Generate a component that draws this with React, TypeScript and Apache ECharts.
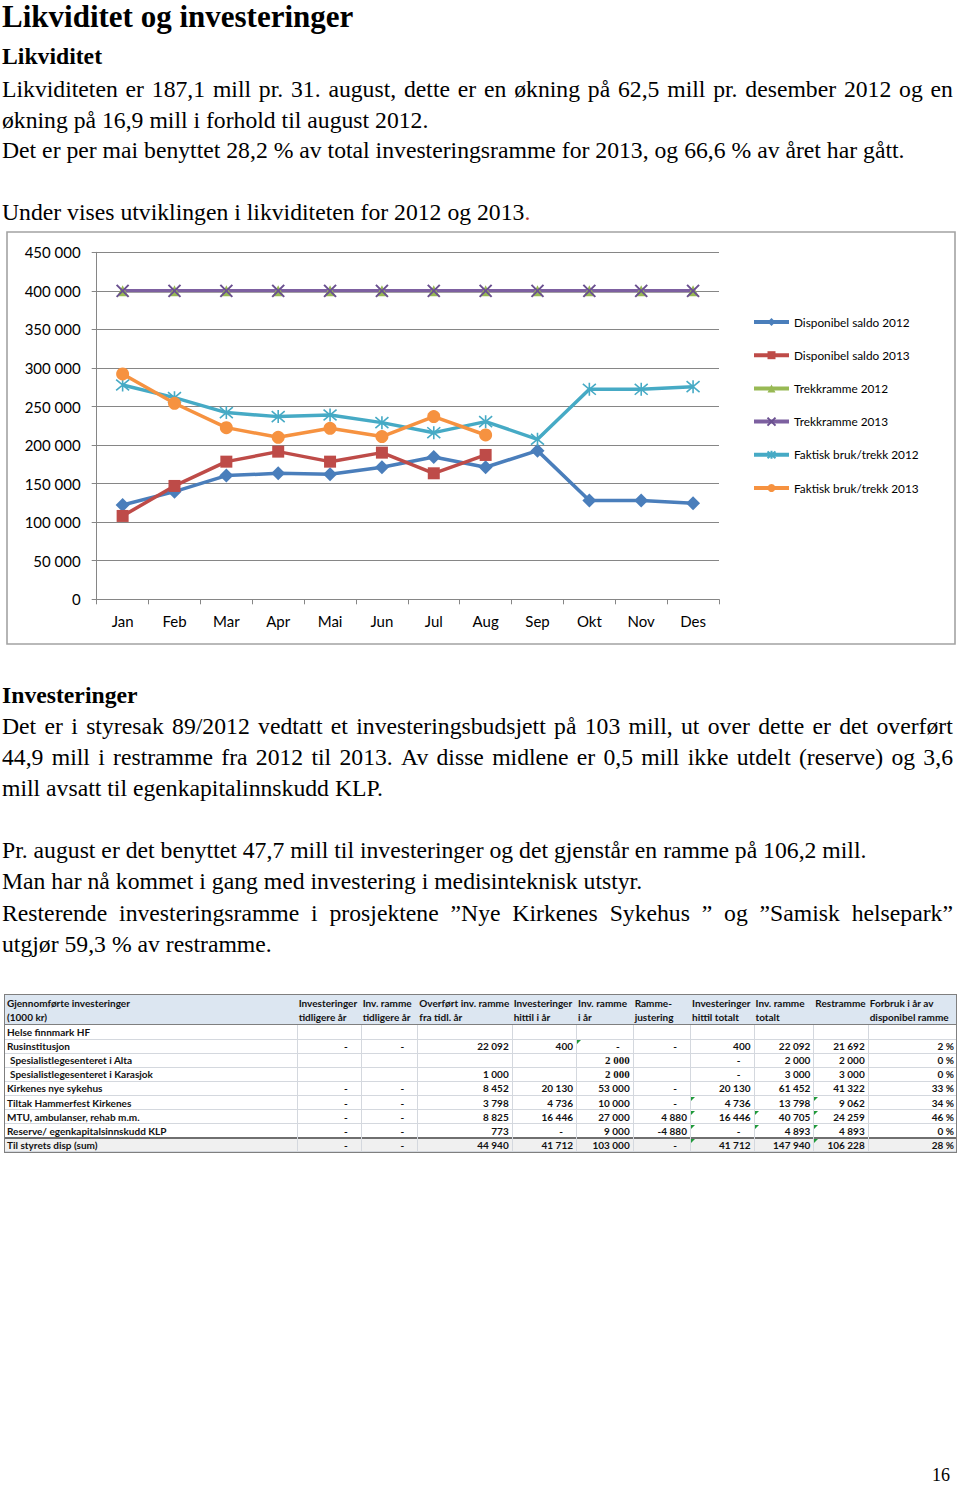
import React, { useEffect, useRef } from "react";
import * as echarts from "echarts";

// ---------- chart data ----------
const months = ["Jan", "Feb", "Mar", "Apr", "Mai", "Jun", "Jul", "Aug", "Sep", "Okt", "Nov", "Des"];
const seriesNames = [
  "Disponibel saldo 2012",
  "Disponibel saldo 2013",
  "Trekkramme 2012",
  "Trekkramme 2013",
  "Faktisk bruk/trekk 2012",
  "Faktisk bruk/trekk 2013",
];
const dispSaldo2012 = [122300, 139600, 160400, 163400, 162100, 171200, 184600, 171200, 192800, 128000, 128000, 124500];
const dispSaldo2013 = [108100, 147000, 178500, 191500, 178500, 190200, 163400, 187200];
const trekkramme2012 = [400000, 400000, 400000, 400000, 400000, 400000, 400000, 400000, 400000, 400000, 400000, 400000];
const trekkramme2013 = [400000, 400000, 400000, 400000, 400000, 400000, 400000, 400000, 400000, 400000, 400000, 400000];
const faktisk2012 = [278000, 261500, 242100, 236900, 239000, 229100, 216100, 230400, 207500, 272300, 272300, 275800];
const faktisk2013 = [292200, 254200, 222600, 210100, 221800, 211000, 236900, 213100];

// ---------- table data ----------
const tableHeaders = [
  ["Gjennomførte investeringer", "(1000 kr)"],
  ["Investeringer", "tidligere år"],
  ["Inv. ramme", "tidligere år"],
  ["Overført inv. ramme", "fra tidl. år"],
  ["Investeringer", "hittil i år"],
  ["Inv. ramme", "i år"],
  ["Ramme-", "justering"],
  ["Investeringer", "hittil totalt"],
  ["Inv. ramme", "totalt"],
  ["Restramme", ""],
  ["Forbruk i år av", "disponibel ramme"],
];
const tableRowLabels = [
  "Helse finnmark HF",
  "Rusinstitusjon",
  " Spesialistlegesenteret i Alta",
  " Spesialistlegesenteret i Karasjok",
  "Kirkenes nye sykehus",
  "Tiltak Hammerfest Kirkenes",
  "MTU, ambulanser, rehab m.m.",
  "Reserve/ egenkapitalsinnskudd KLP",
  "Til styrets disp (sum)",
];
const tableValues = [
  ["", "", "", "", "", "", "", "", "", ""],
  ["-", "-", "22 092", "400", "-", "-", "400", "22 092", "21 692", "2 %"],
  ["", "", "", "", "2 000", "", "-", "2 000", "2 000", "0 %"],
  ["", "", "1 000", "", "2 000", "", "-", "3 000", "3 000", "0 %"],
  ["-", "-", "8 452", "20 130", "53 000", "-", "20 130", "61 452", "41 322", "33 %"],
  ["-", "-", "3 798", "4 736", "10 000", "-", "4 736", "13 798", "9 062", "34 %"],
  ["-", "-", "8 825", "16 446", "27 000", "4 880", "16 446", "40 705", "24 259", "46 %"],
  ["-", "-", "773", "-", "9 000", "-4 880", "-", "4 893", "4 893", "0 %"],
  ["-", "-", "44 940", "41 712", "103 000", "-", "41 712", "147 940", "106 228", "28 %"],
];
const serifCells = ["2,5", "3,5"];
const flaggedCells = [[1, 5], [5, 7], [5, 9], [6, 7], [6, 8], [6, 9], [7, 7], [7, 8], [7, 9], [8, 7], [8, 9]];

// ---------- layout constants ----------
const colEdges = [5, 296.7, 360.7, 417.3, 511.7, 576, 632.7, 690, 753.5, 813.3, 867.7, 956];
const tableTop = 995;
const headerH = 30;
const rowH = 14.1;

const SERIF = '"Liberation Serif", "Times New Roman", serif';
const SANS = 'Lato, "Noto Sans", sans-serif';

function TextLine(props: {
  baseline: number;
  size?: number;
  bold?: boolean;
  justify?: boolean;
  lh?: number;
  children?: any;
  text?: string;
}) {
  const size = props.size ?? 23.7;
  const L = props.lh ?? 40;
  const top = props.baseline - L / 2 - 0.3375 * size;
  const base: any = {
    position: "absolute",
    left: 2,
    top,
    height: L,
    lineHeight: L + "px",
    fontSize: size,
    fontWeight: props.bold ? 700 : 400,
    whiteSpace: "pre",
  };
  if (props.justify && props.text) {
    const words = props.text.split(" ");
    return (
      <div style={{ ...base, width: 951, display: "flex", justifyContent: "space-between" }}>
        {words.map((w, i) => (
          <span key={i}>{w}</span>
        ))}
      </div>
    );
  }
  return <div style={base}>{props.text ?? props.children}</div>;
}

function Table() {
  const cells: any[] = [];
  const width = colEdges[colEdges.length - 1] - colEdges[0];
  const totalH = headerH + rowH * tableRowLabels.length;
  const fs = 10;
  cells.push(
    <div key="hbg" style={{ position: "absolute", left: 0, top: 0, width, height: headerH, background: "#dce6f1" }} />
  );
  cells.push(
    <div
      key="lbg"
      style={{ position: "absolute", left: 0, top: headerH + rowH * 8, width, height: rowH, background: "#f0f0f0" }}
    />
  );
  tableHeaders.forEach((h, c) => {
    const x = colEdges[c] - colEdges[0];
    h.forEach((t, li) => {
      cells.push(
        <div
          key={"h" + c + "-" + li}
          style={{
            position: "absolute",
            left: x + 2,
            top: 1 + li * 14,
            height: 14,
            lineHeight: "14px",
            fontSize: fs,
            fontWeight: 700,
            whiteSpace: "pre",
          }}
        >
          {t}
        </div>
      );
    });
  });
  for (let r = 0; r <= tableRowLabels.length; r++) {
    const y = headerH + r * rowH;
    const dark = r === 0 || r === 8;
    cells.push(
      <div
        key={"hl" + r}
        style={{
          position: "absolute",
          left: 0,
          top: y - (dark ? 1 : 0.5),
          width,
          height: 0,
          borderTop: dark ? (r === 8 ? "2px solid #6f6f6f" : "1px solid #7f7f7f") : "1px solid #d4d8de",
        }}
      />
    );
  }
  for (let c = 1; c < colEdges.length - 1; c++) {
    cells.push(
      <div
        key={"vl" + c}
        style={{
          position: "absolute",
          left: colEdges[c] - colEdges[0],
          top: headerH,
          width: 0,
          height: totalH - headerH,
          borderLeft: "1px solid #d4d8de",
        }}
      />
    );
  }
  tableRowLabels.forEach((lab, r) => {
    const y = headerH + r * rowH;
    const indent = lab.startsWith(" ") ? 3 : 0;
    cells.push(
      <div
        key={"l" + r}
        style={{
          position: "absolute",
          left: 2 + indent,
          top: y,
          height: rowH,
          lineHeight: rowH + "px",
          fontSize: fs,
          fontWeight: 700,
          whiteSpace: "pre",
        }}
      >
        {lab.trim()}
      </div>
    );
    tableValues[r].forEach((v, i) => {
      if (!v) return;
      const c = i + 1;
      const x0 = colEdges[c] - colEdges[0];
      const x1 = colEdges[c + 1] - colEdges[0];
      const isDash = v === "-";
      const serif = serifCells.indexOf(r + "," + c) >= 0;
      cells.push(
        <div
          key={"v" + r + "-" + c}
          style={{
            position: "absolute",
            left: x0,
            top: y,
            width: x1 - x0,
            height: rowH,
            lineHeight: rowH + "px",
            fontSize: serif ? 11 : fs,
            fontFamily: serif ? SERIF : SANS,
            fontWeight: 700,
            textAlign: "right",
            boxSizing: "border-box",
            paddingRight: isDash ? 13 : c === 10 ? 2 : 3,
            whiteSpace: "pre",
          }}
        >
          {v}
        </div>
      );
    });
  });
  flaggedCells.forEach(([r, c], k) => {
    cells.push(
      <div
        key={"f" + k}
        style={{
          position: "absolute",
          left: colEdges[c] - colEdges[0] + 1,
          top: headerH + r * rowH + 1,
          width: 0,
          height: 0,
          borderTop: "4px solid #1f9a3a",
          borderRight: "4px solid transparent",
        }}
      />
    );
  });
  return (
    <div
      style={{
        position: "absolute",
        left: colEdges[0],
        top: tableTop,
        width,
        height: totalH,
        fontFamily: SANS,
        color: "#111",
        outline: "1.5px solid #7f7f7f",
      }}
    >
      {cells}
    </div>
  );
}

export default function App() {
  const ref = useRef<HTMLDivElement>(null);

  useEffect(() => {
    if (!ref.current) return;
    const chart = echarts.init(ref.current, null, { renderer: "svg" });
    const axisColor = "#868686";
    const fmt = (v: number) => {
      if (v === 0) return "0";
      const th = Math.floor(v / 1000);
      const rest = String(v % 1000).padStart(3, "0");
      return th + " " + rest;
    };
    const xPath = "path://M0,0L10,10M10,0L0,10";
    const starPath = "path://M0,0L10,10M10,0L0,10M5,-1L5,11";
    chart.setOption({
      animation: false,
      textStyle: { fontFamily: SANS },
      graphic: [
        {
          type: "rect",
          silent: true,
          shape: { x: 1, y: 1, width: 948, height: 412 },
          style: { fill: "none", stroke: "#a3a3a3", lineWidth: 1.6 },
        },
      ],
      grid: { left: 90.7, top: 21.3, width: 622.3, height: 347 },
      legend: {
        orient: "vertical",
        left: 741,
        top: 79,
        itemWidth: 35,
        itemHeight: 10,
        itemGap: 19.2,
        data: seriesNames,
        lineStyle: { width: 4 },
        textStyle: { fontFamily: SANS, fontSize: 11.8, color: "#000", lineHeight: 14 },
      },
      xAxis: {
        type: "category",
        data: months,
        boundaryGap: true,
        axisLine: { show: true, lineStyle: { color: axisColor, width: 1 } },
        axisTick: { show: true, length: 5, lineStyle: { color: axisColor } },
        axisLabel: { fontSize: 15, color: "#000", margin: 14, fontFamily: SANS },
        splitLine: { show: false },
      },
      yAxis: {
        type: "value",
        min: 0,
        max: 450000,
        interval: 50000,
        axisLine: { show: true, lineStyle: { color: axisColor, width: 1 } },
        axisTick: { show: true, length: 5, lineStyle: { color: axisColor } },
        axisLabel: { fontSize: 15, color: "#000", margin: 16, fontFamily: SANS, formatter: fmt },
        splitLine: { show: true, lineStyle: { color: axisColor, width: 1 } },
      },
      series: [
        {
          name: seriesNames[0],
          type: "line",
          data: dispSaldo2012,
          symbol: "diamond",
          symbolSize: 14,
          lineStyle: { width: 3.5, color: "#4A7EBB" },
          itemStyle: { color: "#4A7EBB" },
        },
        {
          name: seriesNames[1],
          type: "line",
          data: dispSaldo2013,
          symbol: "rect",
          symbolSize: 12,
          lineStyle: { width: 3.5, color: "#BE4B48" },
          itemStyle: { color: "#BE4B48" },
        },
        {
          name: seriesNames[2],
          type: "line",
          data: trekkramme2012,
          symbol: "triangle",
          symbolSize: 11,
          lineStyle: { width: 3.5, color: "#98B954" },
          itemStyle: { color: "#98B954" },
        },
        {
          name: seriesNames[3],
          type: "line",
          data: trekkramme2013,
          symbol: xPath,
          symbolSize: 12,
          lineStyle: { width: 3.5, color: "#7D60A0" },
          itemStyle: { color: "#7D60A0", borderColor: "#6a5090", borderWidth: 2 },
        },
        {
          name: seriesNames[4],
          type: "line",
          data: faktisk2012,
          symbol: starPath,
          symbolSize: 13,
          lineStyle: { width: 3.5, color: "#46AAC5" },
          itemStyle: { color: "#46AAC5", borderColor: "#46AAC5", borderWidth: 1.6 },
        },
        {
          name: seriesNames[5],
          type: "line",
          data: faktisk2013,
          symbol: "circle",
          symbolSize: 13,
          lineStyle: { width: 3.5, color: "#F69240" },
          itemStyle: { color: "#F69240" },
        },
      ],
    });
    return () => chart.dispose();
  }, []);

  return (
    <div
      style={{
        position: "absolute",
        left: 0,
        top: 0,
        width: 960,
        height: 1487,
        background: "#fff",
        color: "#000",
        fontFamily: SERIF,
        overflow: "hidden",
      }}
    >
      <TextLine baseline={27.8} size={31} lh={34} bold text="Likviditet og investeringer" />
      <TextLine baseline={64} bold text="Likviditet" />
      <TextLine
        baseline={97}
        justify
        text="Likviditeten er 187,1 mill pr. 31. august, dette er en økning på 62,5 mill pr. desember 2012 og en"
      />
      <TextLine baseline={127.5} text="økning på 16,9 mill i forhold til august 2012." />
      <TextLine
        baseline={158}
        text="Det er per mai benyttet 28,2 % av total investeringsramme for 2013, og 66,6 % av året har gått."
      />
      <TextLine baseline={220}>
        Under vises utviklingen i likviditeten for 2012 og 2013<span style={{ color: "#c0392b" }}>.</span>
      </TextLine>

      <div ref={ref} style={{ position: "absolute", left: 6, top: 231, width: 950, height: 414 }} />

      <TextLine baseline={703} bold text="Investeringer" />
      <TextLine
        baseline={734}
        justify
        text="Det er i styresak 89/2012 vedtatt et investeringsbudsjett på 103 mill, ut over dette er det overført"
      />
      <TextLine
        baseline={765}
        justify
        text="44,9 mill i restramme fra 2012 til 2013. Av disse midlene er 0,5 mill ikke utdelt (reserve) og 3,6"
      />
      <TextLine baseline={796} text="mill avsatt til egenkapitalinnskudd KLP." />
      <TextLine
        baseline={858}
        text="Pr. august er det benyttet 47,7 mill til investeringer og det gjenstår en ramme på 106,2 mill."
      />
      <TextLine baseline={889} text="Man har nå kommet i gang med investering i medisinteknisk utstyr." />
      <TextLine
        baseline={921}
        justify
        text="Resterende investeringsramme i prosjektene ”Nye Kirkenes Sykehus ” og ”Samisk helsepark”"
      />
      <TextLine baseline={952} text="utgjør 59,3 % av restramme." />

      <Table />

      <div
        style={{
          position: "absolute",
          right: 10,
          top: 1481 - 20 - 0.3375 * 18,
          height: 40,
          lineHeight: "40px",
          fontSize: 18,
        }}
      >
        16
      </div>
    </div>
  );
}
